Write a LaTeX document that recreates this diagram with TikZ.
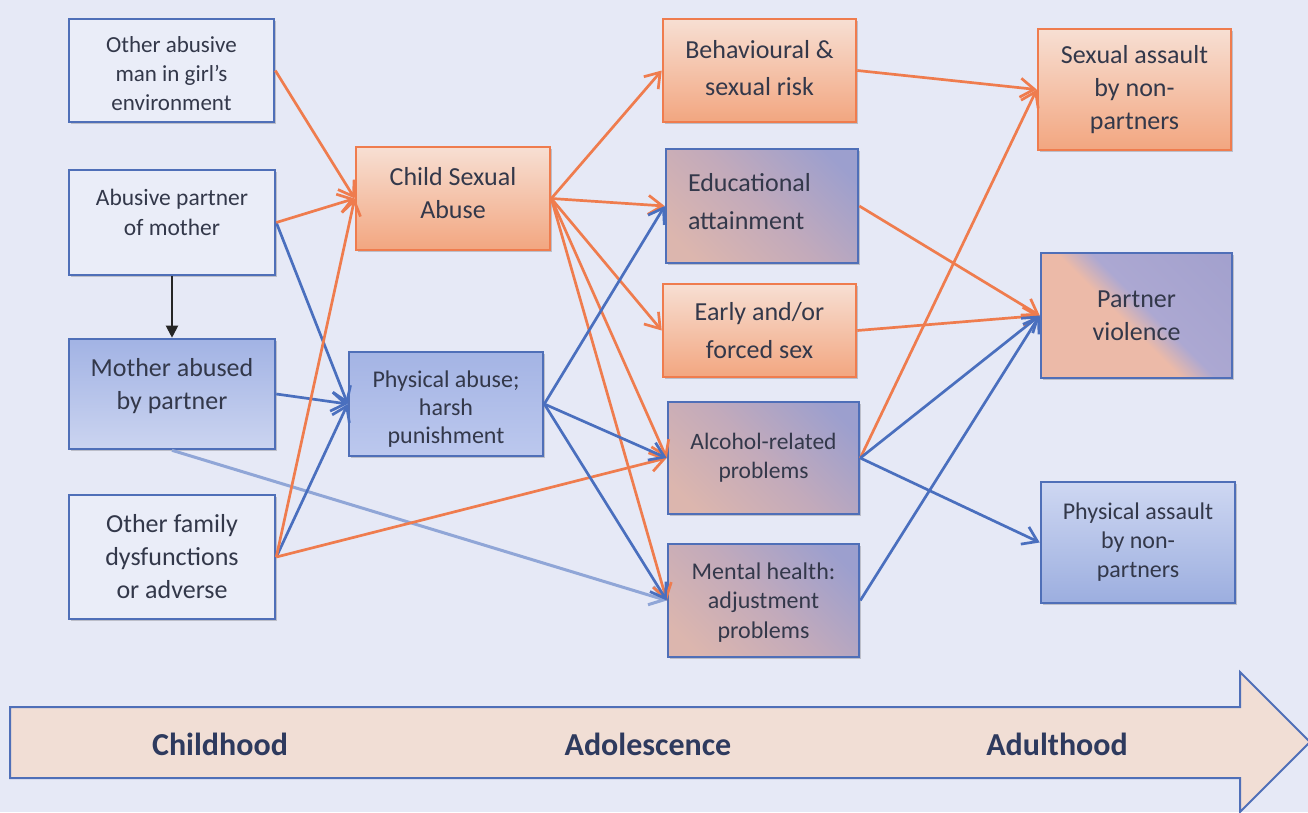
\documentclass[tikz,border=0pt]{standalone}
\usepackage{fontspec}
\setmainfont{Carlito}
\usetikzlibrary{arrows.meta,shadows}

% palette
\definecolor{bg}{HTML}{E6E9F6}
\definecolor{txt}{HTML}{33384A}
\definecolor{lbl}{HTML}{2E3A5E}
\definecolor{orln}{HTML}{EF7C4E}
\definecolor{blln}{HTML}{4A6FBE}
\definecolor{bord}{HTML}{4F6FB8}
\definecolor{ortop}{HTML}{F7DFD3}
\definecolor{orbot}{HTML}{F2A680}
\definecolor{mxpink}{HTML}{DCB6AE}
\definecolor{mxmid}{HTML}{C2AABB}
\definecolor{mxblue}{HTML}{9C9FCE}
\definecolor{pvpink}{HTML}{ECBAA8}
\definecolor{pvblue}{HTML}{ACA8D2}
\definecolor{pvblue2}{HTML}{9E9DCB}
\definecolor{plain}{HTML}{EAEDF8}
\definecolor{bandfill}{HTML}{F1DED5}
\definecolor{mabtop}{HTML}{A2B3E4}
\definecolor{mabbot}{HTML}{CBD4F0}
\definecolor{pabtop}{HTML}{A4B4E4}
\definecolor{pabbot}{HTML}{BCC8EE}
\definecolor{pantop}{HTML}{CED7F2}
\definecolor{panbot}{HTML}{9CAEDF}

\pgfdeclarehorizontalshading{mixshade}{100bp}{color(0bp)=(mxpink); color(22bp)=(mxpink); color(50bp)=(mxmid); color(78bp)=(mxblue); color(100bp)=(mxblue)}
\pgfdeclarehorizontalshading{pvshade}{100bp}{color(0bp)=(pvpink); color(46bp)=(pvpink); color(54bp)=(pvblue); color(100bp)=(pvblue2)}

\tikzset{
  box/.style={draw, line width=2.6pt, align=center, inner sep=0pt, text=txt, anchor=center,
              drop shadow={shadow xshift=2pt, shadow yshift=-2pt, opacity=.18, fill=black}},
  plainbox/.style={box, draw=bord, fill=plain},
  orbox/.style={box, draw=orln, top color=ortop, bottom color=orbot},
  blbox/.style 2 args={box, draw=bord, top color=#1, bottom color=#2},
  mixbox/.style={box, draw=bord, shading=mixshade, shading angle=45},
  pvbox/.style={box, draw=bord, shading=pvshade, shading angle=45},
  fs/.style 2 args={font=\fontsize{#1}{#2}\selectfont},
  tip/.style={-{Straight Barb[length=14pt,width=19pt]}},
  orarr/.style={draw=orln, line width=2.7pt, tip},
  blarr/.style={draw=blln, line width=2.7pt, tip},
  fadearr/.style={draw=blln!55!bg, line width=3pt, tip},
  stage/.style={font=\fontsize{32}{36}\selectfont\bfseries, text=lbl},
}

\begin{document}
\begin{tikzpicture}[x=1pt, y=-1pt]
\useasboundingbox (0,0) rectangle (1308,812);
\fill[bg] (0,0) rectangle (1308,812);

% life-course band
\draw[draw=bord, line width=2pt, fill=bandfill]
  (10,707) -- (1240,707) -- (1240,672) -- (1310,742) -- (1240,812) -- (1240,778) -- (10,778) -- cycle;
\node[stage] (ch) at (220,744) {Childhood};
\node[stage] (ad) at (648,744) {Adolescence};
\node[stage] (ah) at (1057,744) {Adulthood};

% childhood factors
\node[plainbox, fs={23}{29}, minimum width=205pt, minimum height=103pt, text height=80pt, text depth=0pt] (oam) at (171.5,70.5)
  {Other abusive\\man in girl’s\\environment};
\node[plainbox, fs={23.5}{30}, minimum width=206pt, minimum height=105pt, text depth=20pt] (apm) at (172,222.5)
  {Abusive partner\\of mother};
\node[blbox={mabtop}{mabbot}, fs={26}{33}, minimum width=206pt, minimum height=110pt, text depth=21pt] (mab) at (172,394)
  {Mother abused\\by partner};
\node[plainbox, fs={26}{33}, minimum width=206pt, minimum height=124pt] (ofd) at (172,557)
  {Other family\\dysfunctions\\or adverse};

\node[orbox, fs={26}{33}, minimum width=194pt, minimum height=103pt, text depth=12pt] (csa) at (453,198.5)
  {Child Sexual\\Abuse};
\node[blbox={pabtop}{pabbot}, fs={24}{28}, minimum width=194pt, minimum height=104pt, text height=78pt, text depth=0pt] (pab) at (446,404)
  {Physical abuse;\\harsh\\punishment};

% adolescent outcomes
\node[orbox, fs={26}{37}, minimum width=193pt, minimum height=103pt, text depth=6pt] (beh) at (759.5,70.5)
  {Behavioural \&\\sexual risk};
\node[mixbox, fs={26}{38}, align=left, text width=148pt, inner xsep=22pt, minimum width=192pt, minimum height=114pt, text depth=48pt] (edu) at (762,206)
  {Educational\\attainment};
\node[orbox, fs={26}{38}, minimum width=193pt, minimum height=93pt] (efs) at (759.5,330.5)
  {Early and/or\\forced sex};
\node[mixbox, fs={23.5}{29}, minimum width=191pt, minimum height=112pt] (alc) at (763.5,458)
  {Alcohol-related\\problems};
\node[mixbox, fs={24}{29.5}, minimum width=191pt, minimum height=113pt, text depth=0pt] (mhp) at (763.5,600.5)
  {Mental health:\\adjustment\\problems};

% adult outcomes
\node[orbox, fs={26}{33}, minimum width=193pt, minimum height=121pt] (san) at (1134.5,89.5)
  {Sexual assault\\by non-\\partners};
\node[pvbox, fs={26}{33}, minimum width=191pt, minimum height=125pt] (ptv) at (1136.5,315.5)
  {Partner\\violence};
\node[blbox={pantop}{panbot}, fs={24}{29}, minimum width=194pt, minimum height=121pt] (pan) at (1138,542.5)
  {Physical assault\\by non-\\partners};

% childhood links
\draw[draw=black!85, line width=2pt, -{Triangle[length=12pt,width=12pt]}] (apm.south) -- (mab.north);
\draw[fadearr] (mab.south) -- (mhp.west);
\draw[blarr] (apm.east) -- (pab.west);
\draw[blarr] (mab.east) -- (pab.west);
\draw[blarr] (ofd.east) -- (pab.west);
\draw[orarr] (oam.east) -- (csa.west);
\draw[orarr] (apm.east) -- (csa.west);
\draw[orarr] (ofd.east) -- (csa.west);
\draw[orarr] (ofd.east) -- (alc.west);

% into adolescence
\draw[orarr] (csa.east) -- (beh.west);
\draw[orarr] (csa.east) -- (edu.west);
\draw[orarr] (csa.east) -- (efs.west);
\draw[orarr] (csa.east) -- (alc.west);
\draw[orarr] (csa.east) -- (mhp.west);
\draw[blarr] (pab.east) -- (edu.west);
\draw[blarr] (pab.east) -- (alc.west);
\draw[blarr] (pab.east) -- (mhp.west);

% into adulthood
\draw[orarr] (beh.east) -- (san.west);
\draw[orarr] (alc.east) -- (san.west);
\draw[orarr] (edu.east) -- (ptv.west);
\draw[orarr] (efs.east) -- (ptv.west);
\draw[blarr] (alc.east) -- (ptv.west);
\draw[blarr] (mhp.east) -- (ptv.west);
\draw[blarr] (alc.east) -- (pan.west);
\end{tikzpicture}
\end{document}
